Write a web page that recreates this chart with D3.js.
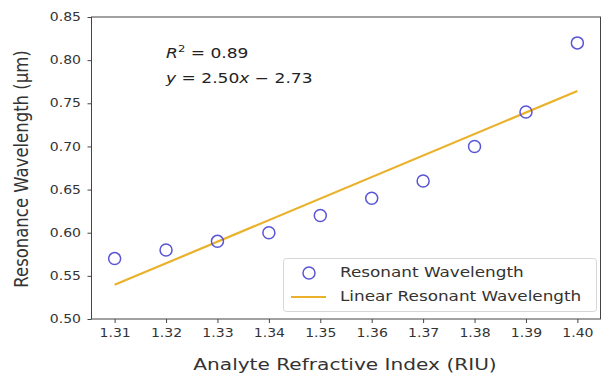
<!DOCTYPE html>
<html>
<head>
<meta charset="utf-8">
<script src="https://cdn.jsdelivr.net/npm/d3@7"></script>
<style>
  html, body { margin: 0; padding: 0; background: #fff; }
  svg { display: block; }
  text { font-family: "DejaVu Sans", sans-serif; }
</style>
</head>
<body>
<svg id="chart" width="603" height="375"></svg>
<script>
// Analyte refractive index (RIU) and measured resonance wavelength (µm)
const refractiveIndex = [1.31, 1.32, 1.33, 1.34, 1.35, 1.36, 1.37, 1.38, 1.39, 1.40];
const resonantWavelength = [0.57, 0.58, 0.59, 0.60, 0.62, 0.64, 0.66, 0.70, 0.74, 0.82];
const xTicks = [1.31, 1.32, 1.33, 1.34, 1.35, 1.36, 1.37, 1.38, 1.39, 1.40];
const yTicks = [0.50, 0.55, 0.60, 0.65, 0.70, 0.75, 0.80, 0.85];
const legendItems = ["Resonant Wavelength", "Linear Resonant Wavelength"];

// Least-squares fit of wavelength against refractive index
const n = refractiveIndex.length;
const mx = d3.mean(refractiveIndex), my = d3.mean(resonantWavelength);
let sxy = 0, sxx = 0, syy = 0;
for (let i = 0; i < n; i++) {
  const dx = refractiveIndex[i] - mx, dy = resonantWavelength[i] - my;
  sxy += dx * dy; sxx += dx * dx; syy += dy * dy;
}
const slope = sxy / sxx;
const intercept = my - slope * mx;
const r2 = (sxy * sxy) / (sxx * syy);

const svg = d3.select("#chart");
const m = { left: 91.5, right: 600.5, top: 17, bottom: 319 };
const wide = 1.22;          // horizontal text stretch
const axisColor = "#444";
const textColor = "#333";
const markerColor = "#5a55d6";
const fitColor = "#eab12a";

const x = d3.scaleLinear().domain([1.3055, 1.4045]).range([m.left, m.right]);
const y = d3.scaleLinear().domain([0.50, 0.85]).range([m.bottom, m.top]);

// Places a horizontally stretched text element at (px, py)
function stretched(sel, px, py) {
  return sel.attr("x", 0).attr("y", 0)
    .attr("transform", `translate(${px},${py}) scale(${wide},1)`);
}

// Fitted line
svg.append("line")
  .attr("x1", x(refractiveIndex[0])).attr("y1", y(slope * refractiveIndex[0] + intercept))
  .attr("x2", x(refractiveIndex[n - 1])).attr("y2", y(slope * refractiveIndex[n - 1] + intercept))
  .attr("stroke", fitColor).attr("stroke-width", 2.2);

// Measured points
svg.append("g").selectAll("circle")
  .data(refractiveIndex.map((v, i) => [v, resonantWavelength[i]]))
  .join("circle")
  .attr("cx", d => x(d[0])).attr("cy", d => y(d[1]))
  .attr("r", 6)
  .attr("fill", "none")
  .attr("stroke", markerColor)
  .attr("stroke-width", 1.5);

// Axes
const xAxis = svg.append("g")
  .attr("transform", `translate(0,${m.bottom})`)
  .call(d3.axisBottom(x).tickValues(xTicks).tickFormat(d3.format(".2f")).tickSize(4).tickPadding(6));
const yAxis = svg.append("g")
  .attr("transform", `translate(${m.left},0)`)
  .call(d3.axisLeft(y).tickValues(yTicks).tickFormat(d3.format(".2f")).tickSize(4).tickPadding(4.6));
[xAxis, yAxis].forEach(g => {
  g.select(".domain").remove();
  g.selectAll(".tick line").attr("stroke", axisColor).attr("stroke-width", 1);
  g.selectAll(".tick text").attr("fill", textColor)
    .attr("transform", `scale(${wide},1)`)
    .style("font-family", "'DejaVu Sans', sans-serif").style("font-size", "11.5px");
});

// Frame
svg.append("rect")
  .attr("x", m.left).attr("y", m.top)
  .attr("width", m.right - m.left).attr("height", m.bottom - m.top)
  .attr("fill", "none").attr("stroke", axisColor).attr("stroke-width", 1);

// Axis titles
stretched(svg.append("text"), (m.left + m.right) / 2 - 1, 370)
  .attr("text-anchor", "middle").attr("fill", textColor)
  .style("font-size", "16.5px")
  .text("Analyte Refractive Index (RIU)");
svg.append("text")
  .attr("transform", `translate(28,${(m.top + m.bottom) / 2 + 1}) rotate(-90) scale(1,${wide})`)
  .attr("text-anchor", "middle").attr("fill", textColor)
  .style("font-size", "16.5px")
  .text("Resonance Wavelength (μm)");

// Fit annotation
const ann = svg.append("g").attr("fill", "#222").style("font-size", "14px");
const t1 = stretched(ann.append("text"), 166, 58);
t1.append("tspan").style("font-style", "italic").text("R");
t1.append("tspan").attr("dy", -6).style("font-size", "9.5px").text("2");
t1.append("tspan").attr("dy", 6).text(" = " + r2.toFixed(2));
const t2 = stretched(ann.append("text"), 166, 83);
t2.append("tspan").style("font-style", "italic").text("y");
t2.append("tspan").text(" = " + slope.toFixed(2));
t2.append("tspan").style("font-style", "italic").text("x");
t2.append("tspan").text(" \u2212 " + Math.abs(intercept).toFixed(2));

// Legend
const lg = svg.append("g");
lg.append("rect")
  .attr("x", 283.5).attr("y", 258.5).attr("width", 313).attr("height", 53).attr("rx", 3)
  .attr("fill", "#fff").attr("fill-opacity", 0.85)
  .attr("stroke", "#d6d6d6").attr("stroke-width", 1);
lg.append("circle").attr("cx", 309).attr("cy", 273).attr("r", 6)
  .attr("fill", "none").attr("stroke", markerColor).attr("stroke-width", 1.5);
lg.append("line").attr("x1", 291).attr("x2", 326).attr("y1", 297).attr("y2", 297)
  .attr("stroke", fitColor).attr("stroke-width", 2.2);
lg.selectAll("text.item").data(legendItems).join("text")
  .attr("class", "item")
  .each(function (d, i) { stretched(d3.select(this), 340, 277 + i * 24); })
  .attr("fill", textColor).style("font-size", "13.8px")
  .text(d => d);
</script>
</body>
</html>
